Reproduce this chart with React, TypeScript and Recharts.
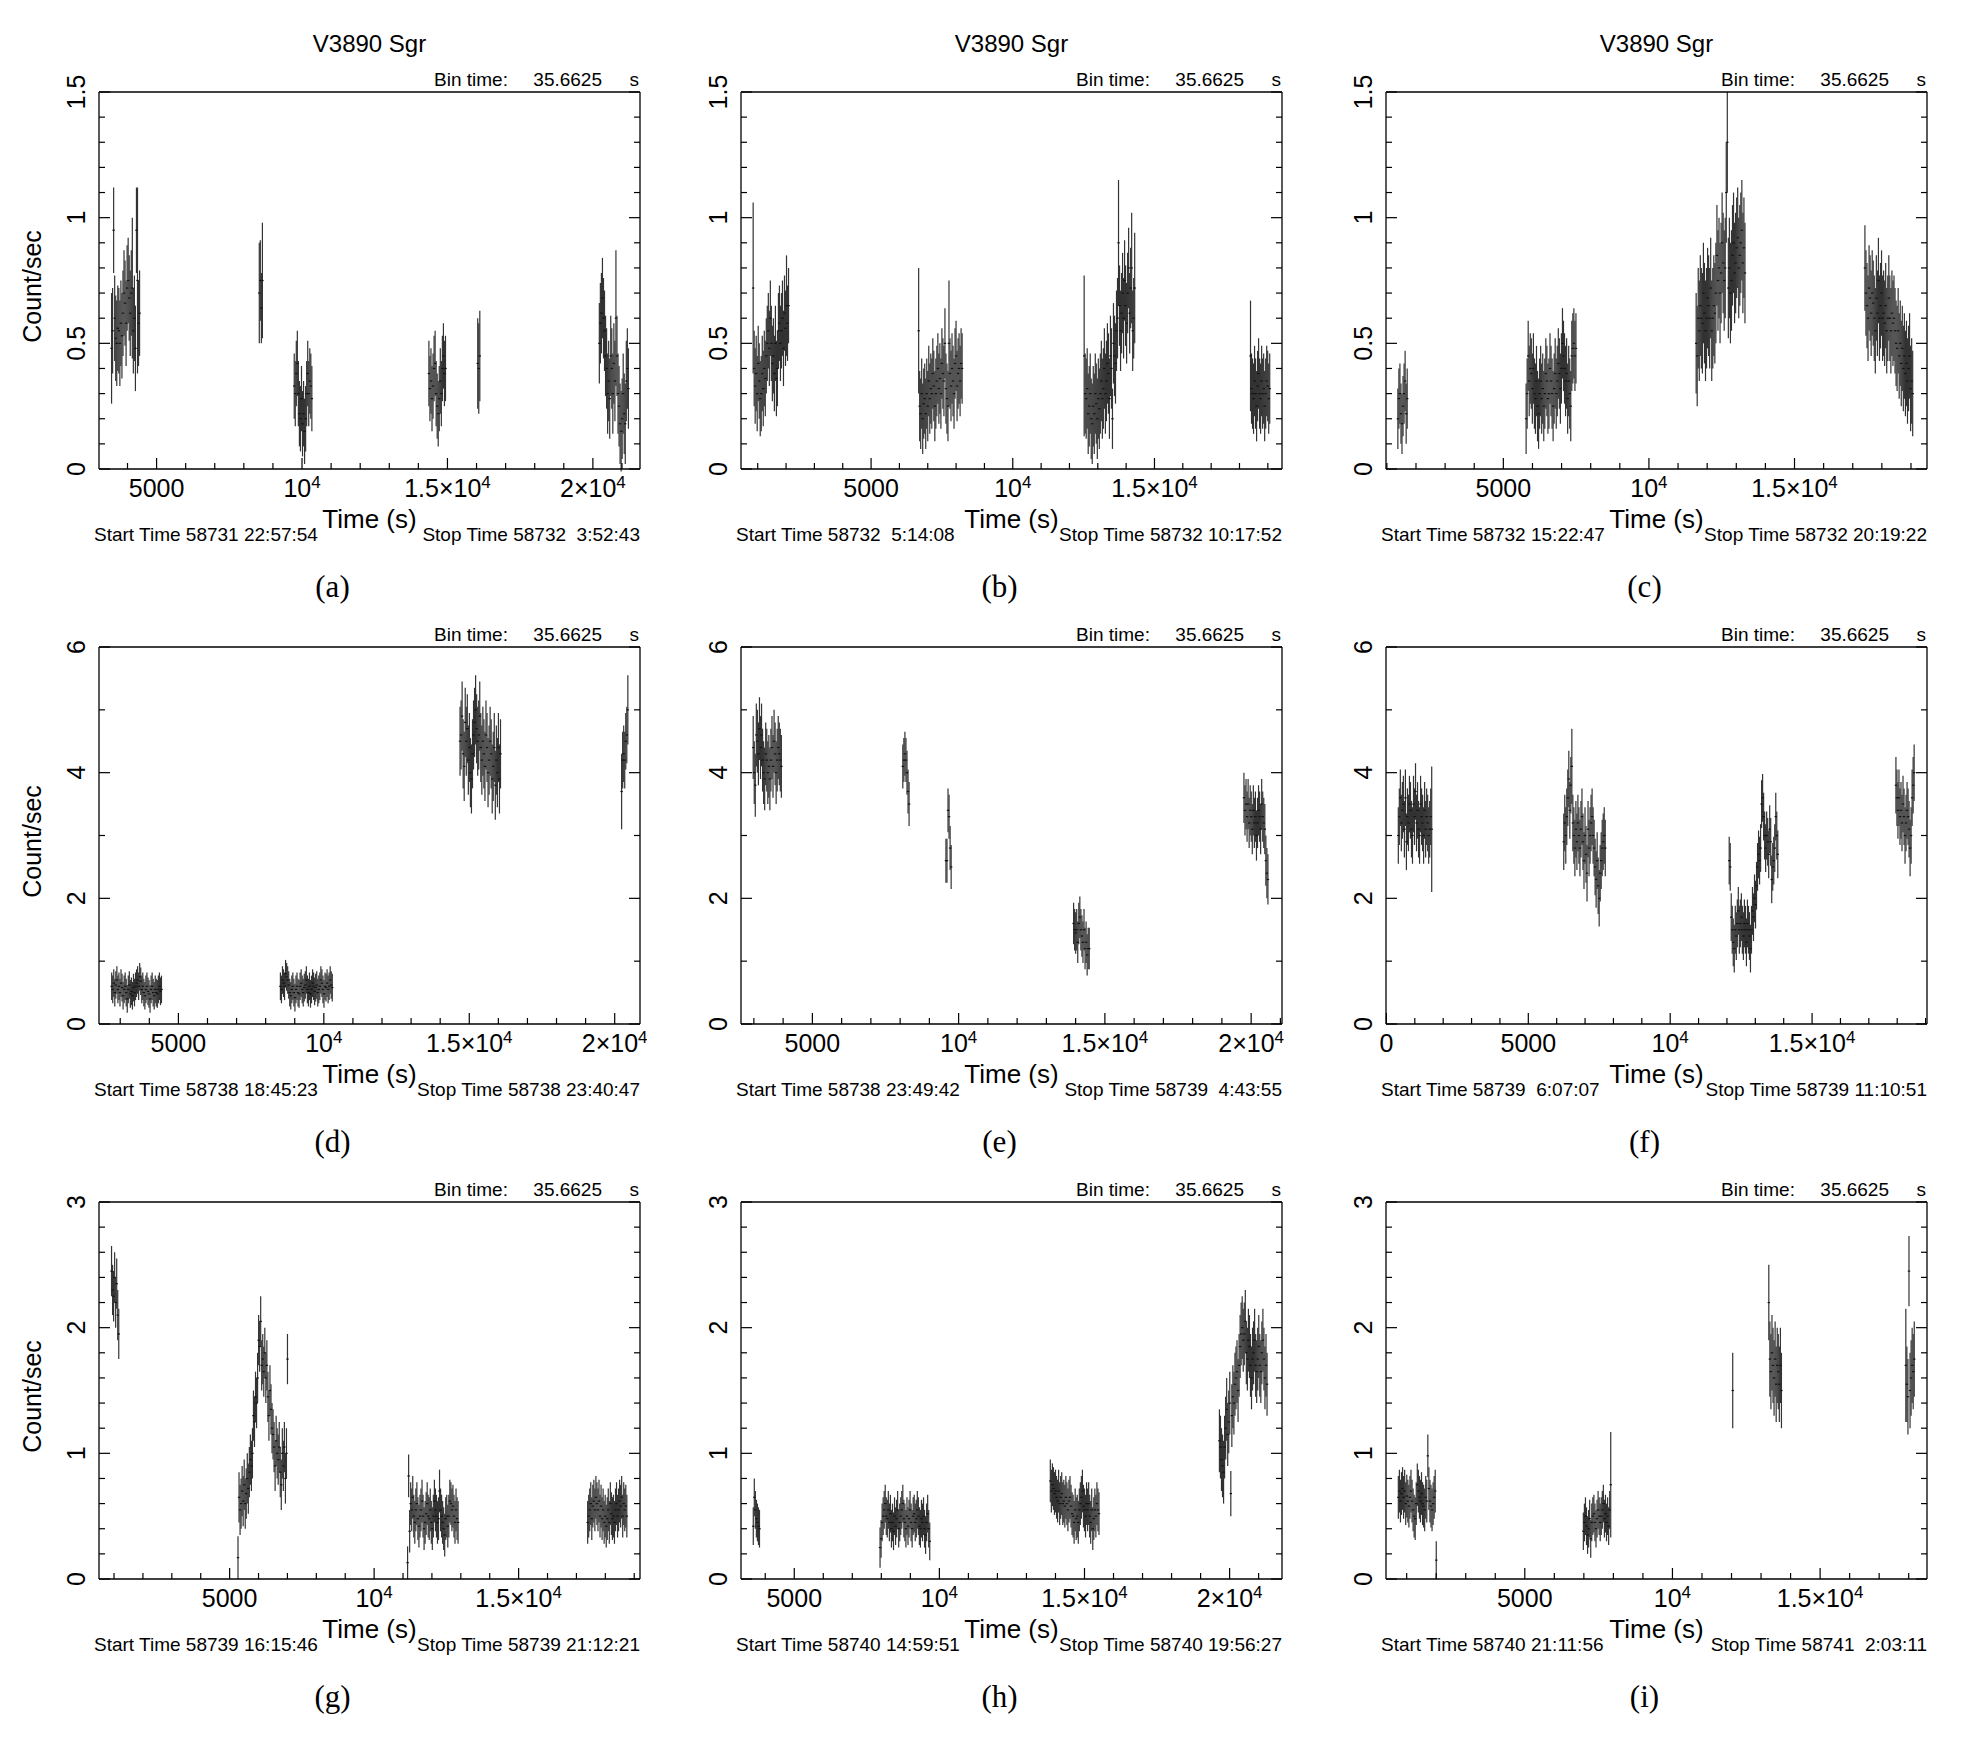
import React from 'react';
import { ScatterChart, Scatter, XAxis, YAxis, ErrorBar } from 'recharts';

const BIN_TIME = 35.6625;

// one light-curve segment: first bin time, typical error, rates (or [rate, error])
type Seg = { t0: number; e: number; v: (number | [number, number])[] };

const curveA: Seg[] = [
  { t0: 3452, e: 0.17, v: [[0.48, 0.22], 0.55, [0.95, 0.17], 0.6, 0.52, 0.5, 0.56, 0.55, 0.5, 0.58, 0.53, 0.62, 0.7, 0.66, 0.58, 0.72, 0.75, 0.68, 0.62, 0.7, [0.72, 0.28], 0.55, 0.6, 0.48, [0.95, 0.17], [0.75, 0.37], 0.58, 0.62] },
  { t0: 8531, e: 0.16, v: [[0.7, 0.2], 0.75, [0.64, 0.14], [0.75, 0.23]] },
  { t0: 9732, e: 0.13, v: [0.33, 0.3, 0.38, 0.42, 0.3, 0.22, 0.2, 0.28, 0.18, 0.22, 0.15, 0.2, 0.3, 0.38, 0.3, 0.35, 0.33, 0.28] },
  { t0: 14362, e: 0.13, v: [0.38, 0.32, 0.35, 0.28, 0.33, 0.4, 0.42, 0.3, 0.25, 0.22, 0.28, 0.35, 0.3, 0.4, 0.45, 0.38, 0.4] },
  { t0: 16041, e: 0.18, v: [0.42, 0.4, 0.45] },
  { t0: 20222, e: 0.16, v: [0.5, 0.58, 0.62, 0.68, 0.6, 0.55, 0.45, 0.4, 0.3, 0.35, 0.28, 0.45, 0.4, 0.3, 0.42, 0.35, [0.6, 0.27], 0.45, 0.3, 0.25, 0.18, 0.15, 0.2, 0.3, 0.22, 0.18, 0.35, 0.4, 0.32] },
];

const curveB: Seg[] = [
  { t0: 839, e: 0.15, v: [[0.72, 0.34], 0.4, 0.33, 0.38, 0.3, 0.42, 0.35, 0.28, 0.3, 0.38, 0.32, 0.4, 0.36, 0.45, 0.5, 0.55, 0.48, 0.6, 0.5, 0.42, 0.45, 0.38, 0.5, 0.36, 0.4, 0.55, 0.58, 0.5, 0.55, 0.6, 0.48, 0.62, 0.56, [0.65, 0.2], 0.58, 0.65] },
  { t0: 6679, e: 0.14, v: [[0.55, 0.25], 0.25, 0.22, 0.3, 0.2, 0.26, 0.28, 0.22, 0.3, 0.25, 0.35, 0.28, 0.32, 0.3, 0.38, 0.33, 0.25, 0.3, 0.35, 0.4, 0.32, 0.36, 0.3, 0.42, 0.38, 0.35, 0.5, 0.32, 0.28, 0.25, [0.5, 0.25], 0.38, 0.33, 0.4, 0.35, 0.3, 0.42, 0.45, 0.33, 0.38, 0.4, 0.35, 0.42, 0.4] },
  { t0: 12519, e: 0.16, v: [[0.45, 0.32], 0.3, 0.28, 0.32, 0.22, 0.25, 0.3, 0.2, 0.18, 0.25, 0.22, 0.3, 0.26, 0.2, 0.28, 0.24, 0.3, 0.35, 0.28, 0.32, 0.4, 0.3, 0.35, 0.42, 0.38, 0.28, 0.45, 0.4, [0.2, 0.12], 0.5, 0.45, 0.42, 0.55, 0.6, [0.9, 0.25], 0.65, 0.55, 0.62, 0.7, 0.6, 0.75, 0.65, 0.58, 0.7, 0.8, 0.62, 0.72, [0.8, 0.22], 0.55, 0.6, [0.72, 0.22]] },
  { t0: 18389, e: 0.14, v: [[0.45, 0.22], 0.32, 0.3, 0.28, 0.35, 0.3, 0.25, 0.33, 0.38, 0.3, 0.28, 0.35, 0.3, 0.32, 0.25, 0.3, 0.35, 0.33, 0.28, 0.32] },
];

const curveC: Seg[] = [
  { t0: 1377, e: 0.12, v: [0.2, 0.28, 0.3, 0.22, 0.18, 0.25, 0.3, 0.35, 0.22, 0.28] },
  { t0: 5782, e: 0.14, v: [0.2, 0.3, 0.45, 0.35, 0.4, 0.38, 0.32, 0.4, 0.3, 0.28, 0.35, 0.25, 0.22, 0.3, 0.35, 0.28, 0.32, 0.25, 0.3, 0.38, 0.35, 0.28, 0.3, 0.4, 0.35, 0.3, 0.25, 0.32, 0.38, 0.3, 0.35, 0.42, 0.38, 0.32, 0.4, 0.5, 0.45, 0.4, 0.35, 0.38, 0.28, 0.35, 0.3, 0.25, 0.45, 0.48, 0.5, 0.45, 0.48] },
  { t0: 11622, e: 0.2, v: [0.5, 0.45, 0.6, 0.55, 0.65, 0.6, 0.58, 0.7, 0.62, 0.55, 0.6, 0.68, 0.65, 0.6, 0.72, 0.55, 0.6, 0.65, 0.62, 0.7, 0.85, 0.75, 0.8, 0.7, 0.78, 0.9, 0.82, 0.75, 0.8, 1.1, [1.3, 0.2], 0.72, 0.8, 0.7, 0.75, 0.85, 0.9, 0.78, 0.82, 0.88, 0.92, 0.8, 0.85, 0.9, 0.95, 0.82, 0.88, 0.78] },
  { t0: 17418, e: 0.17, v: [0.8, 0.7, 0.65, 0.6, 0.72, 0.68, 0.62, 0.7, 0.66, 0.6, 0.55, 0.68, 0.62, 0.75, 0.6, 0.65, 0.7, 0.6, 0.62, 0.58, 0.65, 0.55, 0.6, 0.68, 0.6, 0.55, 0.62, 0.58, 0.6, 0.55, 0.5, 0.48, 0.55, 0.45, 0.5, 0.42, 0.48, 0.4, 0.45, 0.38, 0.42, 0.35, 0.4, 0.45, 0.32, 0.35, 0.3] },
];

const curveD: Seg[] = [
  { t0: 2706, e: 0.22, v: [0.6, 0.55, 0.65, 0.5, 0.62, 0.7, 0.55, 0.6, 0.5, 0.65, 0.58, 0.45, 0.55, 0.6, 0.5, 0.4, 0.55, 0.62, 0.48, 0.52, 0.45, 0.58, 0.5, 0.6, 0.65, 0.7, 0.6, 0.75, 0.68, 0.55, 0.6, 0.5, 0.45, 0.55, 0.6, 0.52, 0.48, 0.4, 0.55, 0.6, 0.5, 0.45, 0.55, 0.5, 0.48, 0.55, 0.6, 0.52, 0.55] },
  { t0: 8507, e: 0.22, v: [0.6, 0.55, 0.7, 0.65, 0.6, 0.8, 0.75, 0.7, 0.62, 0.5, 0.45, 0.55, 0.6, 0.5, 0.42, 0.55, 0.6, 0.5, 0.48, 0.6, 0.65, 0.55, 0.5, 0.58, 0.62, 0.7, 0.55, 0.5, 0.6, 0.48, 0.55, 0.65, 0.6, 0.52, 0.58, 0.62, 0.5, 0.55, 0.6, 0.7, 0.65, 0.55, 0.48, 0.6, 0.58, 0.65, 0.55, 0.6, 0.7, 0.62, 0.58] },
  { t0: 14683, e: 0.55, v: [4.5, 4.6, 4.9, 4.3, 4.1, 4.8, 4.5, 4.7, 4.2, 4.4, 4.0, 3.9, 4.3, 4.6, 4.8, 5.0, 4.7, 4.5, 4.6, 4.9, 4.4, 4.2, 4.5, 4.3, 4.1, 4.6, 4.4, 4.0, 4.2, 4.5, 4.3, 3.9, 4.1, 4.4, 3.8, 4.2, 4.0, 4.4, 3.9, 4.3] },
  { t0: 20238, e: 0.45, v: [[3.7, 0.6], 4.2, 4.3, 4.2, 4.5, 4.6, [5.0, 0.55]] },
];

const curveE: Seg[] = [
  { t0: 2977, e: 0.5, v: [4.4, 4.0, 3.8, 4.6, 4.5, 4.3, 4.7, 4.4, 4.6, 4.2, 4.0, 3.9, 4.3, 4.2, 4.0, 4.1, 3.9, 4.2, 4.4, 4.1, 4.5, 4.3, 4.0, 4.2, 4.4, 4.3, 4.2, 4.1] },
  { t0: 8092, e: 0.35, v: [4.1, 4.2, 4.3, 4.2, 4.0, 3.7, 3.5] },
  { t0: 9566, e: 0.35, v: [2.6, 2.6, 3.4, 3.3, 2.8, 2.5] },
  { t0: 13930, e: 0.33, v: [1.6, 1.5, 1.45, 1.5, 1.3, 1.6, 1.7, 1.5, 1.4, 1.3, 1.5, 1.2, 1.3, 1.1, 1.2, 1.2] },
  { t0: 19754, e: 0.4, v: [3.6, 3.4, 3.5, 3.3, 3.5, 3.2, 3.4, 3.3, 3.1, 3.4, 3.2, 3.3, 3.0, 3.2, 3.4, 3.3, 3.1, 3.5, 3.3, 3.2, 3.1, 2.6, 2.4, 2.3] },
];

const curveF: Seg[] = [
  { t0: 419, e: 0.45, v: [3.0, 3.3, 3.6, 3.2, 3.4, 3.5, 3.1, 3.6, 2.9, 3.3, 3.2, 3.5, 3.4, 3.1, 3.0, 3.5, 3.3, 3.7, 3.2, 3.4, 3.1, 3.0, 3.5, 3.3, 3.2, 3.0, 3.4, 3.1, 3.3, 3.2, 3.0, 3.1, 3.3, [3.1, 1.0]] },
  { t0: 6249, e: 0.45, v: [2.9, 3.2, 3.0, 3.3, 3.6, 3.9, 3.4, 3.8, [4.1, 0.6], 3.2, 3.0, 2.8, 3.1, 2.9, 3.2, 3.0, 2.8, 3.1, 3.3, 2.9, 2.6, 3.0, 2.7, 2.4, 3.1, 2.8, 3.0, 3.2, 3.3, 3.0, 2.8, 2.5, 2.3, 2.6, 2.2, 2.0, 2.4, 2.6, 2.8, 2.9, 3.0, 2.8] },
  { t0: 12080, e: 0.38, v: [2.6, 2.5, 1.7, 1.5, 1.3, 1.2, 1.5, 1.4, 1.6, 1.8, 1.5, 1.6, 1.7, 1.5, 1.4, 1.6, 1.5, 1.3, 1.6, 1.5, 1.4, 1.2, 1.5, 1.8, 1.7, 2.0, 1.9, 2.2, 2.5, 2.7, 2.6, 2.8, 3.5, 3.6, 3.3, 3.0, 2.8, 3.0, 2.9, 2.7, 3.1, 2.9, 2.3, 2.5, 2.6, 2.8, 3.3, 3.0, 2.7] },
  { t0: 17955, e: 0.45, v: [3.8, 3.6, 3.4, 3.6, 3.3, 3.4, 3.2, 3.5, 3.3, 3.0, 3.2, 3.4, 3.3, 3.1, 2.8, 3.0, 3.6, 3.8, 4.0] },
];

const curveG: Seg[] = [
  { t0: 914, e: 0.2, v: [2.45, 2.3, 2.25, 2.4, 2.2, 2.35, 2.1, 1.95] },
  { t0: 5290, e: 0.2, v: [[0.17, 0.17], 0.65, 0.55, 0.6, 0.7, 0.62, 0.75, 0.6, 0.68, 0.8, 0.72, 0.85, 0.95, 0.9, 1.0, 1.3, 1.25, 1.45, 1.4, 1.6, 1.9, 1.85, 2.05, 1.7, 1.75, 1.65, 1.8, 1.6, 1.7, 1.45, 1.3, 1.5, 1.35, 1.2, 1.15, 1.05, 0.9, 1.1, 1.0, 0.95, 1.05, 0.85, 0.75, 1.0, 0.9, 1.05, 0.8, 1.0, 1.75] },
  { t0: 11158, e: 0.17, v: [[0.13, 0.13], 0.82, 0.38, 0.6, 0.55, 0.65, 0.5, 0.45, 0.55, 0.6, 0.48, 0.42, 0.5, 0.55, 0.62, 0.5, 0.4, 0.45, 0.52, 0.6, 0.5, 0.48, 0.55, 0.45, 0.4, 0.5, 0.62, 0.55, 0.5, 0.45, 0.48, 0.7, 0.55, 0.5, 0.45, 0.4, 0.35, 0.48, 0.5, 0.42, 0.5, 0.62, 0.6, 0.55, 0.58, 0.5, 0.45, 0.55, 0.48, 0.45] },
  { t0: 17389, e: 0.17, v: [0.45, 0.5, 0.55, 0.6, 0.48, 0.58, 0.62, 0.55, 0.65, 0.6, 0.55, 0.62, 0.5, 0.58, 0.48, 0.55, 0.45, 0.5, 0.42, 0.48, 0.55, 0.45, 0.6, 0.52, 0.48, 0.5, 0.45, 0.55, 0.6, 0.5, 0.55, 0.62, 0.58, 0.65, 0.5, 0.6, 0.55, 0.58, 0.5] },
];

const curveH: Seg[] = [
  { t0: 3588, e: 0.15, v: [0.42, 0.65, 0.55, 0.48, 0.45, 0.42, 0.4] },
  { t0: 7956, e: 0.15, v: [[0.25, 0.16], 0.32, 0.45, 0.5, 0.55, 0.6, 0.5, 0.48, 0.55, 0.45, 0.52, 0.4, 0.45, 0.38, 0.5, 0.42, 0.48, 0.55, 0.4, 0.45, 0.5, 0.55, 0.6, 0.48, 0.45, 0.4, 0.5, 0.42, 0.48, 0.55, 0.45, 0.4, 0.5, 0.52, 0.45, 0.48, 0.55, 0.5, 0.42, 0.4, 0.48, 0.45, 0.5, 0.4, 0.35, 0.45, 0.52, 0.4, 0.3] },
  { t0: 13823, e: 0.17, v: [0.78, 0.7, 0.75, 0.72, 0.68, 0.7, 0.65, 0.62, 0.7, 0.6, 0.65, 0.68, 0.6, 0.62, 0.58, 0.65, 0.6, 0.55, 0.62, 0.65, 0.58, 0.52, 0.5, 0.45, 0.55, 0.48, 0.5, 0.45, 0.55, 0.6, 0.65, 0.7, 0.58, 0.55, 0.5, 0.6, 0.55, 0.6, 0.5, 0.45, 0.55, 0.4, 0.48, 0.55, 0.5, 0.6, 0.55, 0.52] },
  { t0: 19649, e: 0.25, v: [1.1, 1.05, 0.95, 0.9, 0.85, 1.05, 1.2, 1.35, 1.15, 1.25, 1.4, [0.68, 0.18], 1.3, 1.45, 1.4, 1.55, 1.6, 1.65, 1.5, 1.7, 1.85, 1.95, 2.0, 1.9, 1.95, 2.05, 1.8, 1.75, 1.9, 1.85, 1.7, 1.6, 1.75, 1.8, 1.9, 1.7, 1.65, 1.75, 1.85, 1.7, 1.65, 1.8, 1.9, 1.75, 1.6, 1.7, 1.55] },
];

const curveI: Seg[] = [
  { t0: 718, e: 0.17, v: [0.65, 0.7, 0.62, 0.68, 0.72, 0.65, 0.7, 0.6, 0.66, 0.62, 0.58, 0.65, 0.7, 0.62, 0.55, 0.5, 0.48, 0.6, 0.75, 0.7, 0.65, 0.62, 0.68, 0.6, 0.58, 0.55, 0.65, 0.62, 0.98, 0.72, 0.62, 0.58, 0.55, 0.6, 0.65, 0.7, [0.15, 0.15]] },
  { t0: 6983, e: 0.15, v: [0.38, 0.45, 0.5, 0.42, 0.35, 0.4, 0.48, 0.32, 0.45, 0.5, 0.52, 0.45, 0.4, 0.48, 0.55, 0.5, 0.45, 0.5, 0.55, 0.6, 0.48, 0.52, 0.45, 0.5, 0.42, 0.55, [0.75, 0.42]] },
  { t0: 12041, e: 0.3, v: [1.5] },
  { t0: 13263, e: 0.3, v: [2.2, 1.75, 1.65, 1.8, 1.7, 1.6, 1.75, 1.55, 1.7, 1.65, 1.55, 1.7, 1.5] },
  { t0: 17903, e: 0.3, v: [[1.7, 0.45], 1.55, 1.45, [2.45, 0.28], 1.5, 1.6, 1.7, 1.65, 1.75] },
];

const CURVES = [curveA, curveB, curveC, curveD, curveE, curveF, curveG, curveH, curveI];
const PANEL_TAGS = ['(a)', '(b)', '(c)', '(d)', '(e)', '(f)', '(g)', '(h)', '(i)'];
const START_TIMES = [
  'Start Time 58731 22:57:54', 'Start Time 58732  5:14:08', 'Start Time 58732 15:22:47',
  'Start Time 58738 18:45:23', 'Start Time 58738 23:49:42', 'Start Time 58739  6:07:07',
  'Start Time 58739 16:15:46', 'Start Time 58740 14:59:51', 'Start Time 58740 21:11:56',
];
const STOP_TIMES = [
  'Stop Time 58732  3:52:43', 'Stop Time 58732 10:17:52', 'Stop Time 58732 20:19:22',
  'Stop Time 58738 23:40:47', 'Stop Time 58739  4:43:55', 'Stop Time 58739 11:10:51',
  'Stop Time 58739 21:12:21', 'Stop Time 58740 19:56:27', 'Stop Time 58741  2:03:11',
];
const X_DOMAINS: [number, number][] = [
  [3020, 21620], [410, 19500], [970, 19550],
  [2270, 20870], [2560, 21055], [-15, 19050],
  [480, 19200], [3165, 21805], [300, 18620],
];
const ROW_YMAX = [1.5, 6, 3];
const ROW_YSTEP = [0.1, 1, 0.2];
const ROW_YMAJOR = [[0, 0.5, 1, 1.5], [0, 2, 4, 6], [0, 1, 2, 3]];

const TITLE = 'V3890 Sgr';
const Y_TITLE = 'Count/sec';
const X_TITLE = 'Time (s)';
const BIN_LABEL = 'Bin time:';
const BIN_VALUE = '35.6625';

// layout of the 3x3 grid (frame boxes in page pixels)
const FRAME_LEFT = [99, 741, 1386];
const FRAME_TOP = [92, 647, 1202];
const FRAME_W = 541;
const FRAME_H = 377;
const TAG_SHIFT = [-37, -12, -12];
const M = { top: 20, right: 6, bottom: 50, left: 50 };
const AX = 1; // axes need a non-zero band to be drawn

const FONT = '"Liberation Sans", Arial, Helvetica, sans-serif';
const SERIF = '"Liberation Serif", "Times New Roman", serif';
const MAJ = 11;
const MIN = 6;
const INK = '#000';

function toPoints(curve: Seg[]) {
  const pts: { t: number; y: number; e: number }[] = [];
  curve.forEach((s) =>
    s.v.forEach((p, i) => {
      const [y, e] = Array.isArray(p) ? p : [p, s.e];
      pts.push({ t: s.t0 + i * BIN_TIME, y, e });
    })
  );
  return pts;
}

function steps(from: number, to: number, step: number) {
  const out: number[] = [];
  for (let i = 0; from + i * step <= to + 1e-9; i++) out.push(Math.round((from + i * step) * 1000) / 1000);
  return out;
}

function xLabel(v: number): [string, string] {
  if (v === 10000) return ['10', '4'];
  if (v === 15000) return ['1.5×10', '4'];
  if (v === 20000) return ['2×10', '4'];
  return [String(v), ''];
}

const BottomTick = (p: any) => {
  const v = p.payload.value;
  const major = v % 5000 === 0;
  const [base, sup] = xLabel(v);
  return (
    <g>
      <line x1={p.x} y1={p.y} x2={p.x} y2={p.y - (major ? MAJ : MIN)} stroke={INK} strokeWidth={1.2} />
      {major && (
        <text x={p.x} y={p.y + 28} textAnchor="middle" fontSize={25} fontFamily={FONT} fill={INK}>
          {base}
          {sup && (
            <tspan dy={-9} fontSize={17}>
              {sup}
            </tspan>
          )}
        </text>
      )}
    </g>
  );
};

const TopTick = (p: any) => {
  const major = p.payload.value % 5000 === 0;
  return <line x1={p.x} y1={p.y} x2={p.x} y2={p.y + (major ? MAJ : MIN)} stroke={INK} strokeWidth={1.2} />;
};

const isMajorY = (v: number, majors: number[]) => majors.some((m) => Math.abs(m - v) < 1e-6);

const makeLeftTick = (majors: number[]) => (p: any) => {
  const v = p.payload.value;
  const major = isMajorY(v, majors);
  return (
    <g>
      <line x1={p.x} y1={p.y} x2={p.x + (major ? MAJ : MIN)} y2={p.y} stroke={INK} strokeWidth={1.2} />
      {major && (
        <text
          transform={`translate(${p.x - 14},${p.y}) rotate(-90)`}
          textAnchor="middle"
          fontSize={25}
          fontFamily={FONT}
          fill={INK}
        >
          {String(v)}
        </text>
      )}
    </g>
  );
};

const makeRightTick = (majors: number[]) => (p: any) => {
  const major = isMajorY(p.payload.value, majors);
  return <line x1={p.x} y1={p.y} x2={p.x - (major ? MAJ : MIN)} y2={p.y} stroke={INK} strokeWidth={1.2} />;
};

const Dash = (p: any) => (
  <line x1={p.cx - 1.2} x2={p.cx + 1.2} y1={p.cy} y2={p.cy} stroke="#111" strokeWidth={1.2} />
);

function Panel({ i }: { i: number }) {
  const row = Math.floor(i / 3);
  const col = i % 3;
  const dom = X_DOMAINS[i];
  const pts = toPoints(CURVES[i]);
  const xTicks = steps(Math.ceil(dom[0] / 1000) * 1000, dom[1], 1000);
  const yTicks = steps(0, ROW_YMAX[row], ROW_YSTEP[row]);
  const axisLine = { stroke: INK, strokeWidth: 1.3 };
  const common = {
    type: 'number' as const,
    allowDataOverflow: true,
    interval: 0 as const,
    tickSize: 0,
    tickMargin: 0,
    tickLine: false,
    axisLine,
  };
  return (
    <div style={{ position: 'absolute', left: FRAME_LEFT[col] - M.left - AX, top: FRAME_TOP[row] - M.top - AX }}>
      <ScatterChart
        width={M.left + M.right + FRAME_W + 2 * AX}
        height={M.top + M.bottom + FRAME_H + 2 * AX}
        margin={M}
      >
        <XAxis {...common} xAxisId="b" dataKey="t" domain={dom} ticks={xTicks} height={AX} tick={BottomTick} />
        <XAxis {...common} xAxisId="t" orientation="top" domain={dom} ticks={xTicks} height={AX} tick={TopTick} />
        <YAxis
          {...common}
          yAxisId="l"
          dataKey="y"
          domain={[0, ROW_YMAX[row]]}
          ticks={yTicks}
          width={AX}
          tick={makeLeftTick(ROW_YMAJOR[row])}
        />
        <YAxis
          {...common}
          yAxisId="r"
          orientation="right"
          domain={[0, ROW_YMAX[row]]}
          ticks={yTicks}
          width={AX}
          tick={makeRightTick(ROW_YMAJOR[row])}
        />
        <Scatter xAxisId="b" yAxisId="l" data={pts} shape={Dash} isAnimationActive={false}>
          <ErrorBar dataKey="e" direction="y" width={0} stroke="#333" strokeWidth={1.2} isAnimationActive={false} />
        </Scatter>
      </ScatterChart>
    </div>
  );
}

function Annotations() {
  const items: React.ReactNode[] = [];
  for (let i = 0; i < 9; i++) {
    const row = Math.floor(i / 3);
    const col = i % 3;
    const L = FRAME_LEFT[col];
    const T = FRAME_TOP[row];
    const R = L + FRAME_W;
    const B = T + FRAME_H;
    const cx = (L + R) / 2;
    if (row === 0)
      items.push(
        <text key={`ti${i}`} x={cx} y={T - 40} textAnchor="middle" fontSize={24}>
          {TITLE}
        </text>
      );
    if (col === 0)
      items.push(
        <text key={`yl${i}`} transform={`translate(${L - 58},${(T + B) / 2 + 6}) rotate(-90)`} textAnchor="middle" fontSize={25}>
          {Y_TITLE}
        </text>
      );
    items.push(
      <text key={`b1${i}`} x={R - 206} y={T - 6} fontSize={19}>
        {BIN_LABEL}
      </text>,
      <text key={`b2${i}`} x={R - 38} y={T - 6} fontSize={19} textAnchor="end">
        {BIN_VALUE}
      </text>,
      <text key={`b3${i}`} x={R - 1} y={T - 6} fontSize={19} textAnchor="end">
        s
      </text>,
      <text key={`xl${i}`} x={cx} y={B + 59} fontSize={26} textAnchor="middle">
        {X_TITLE}
      </text>,
      <text key={`st${i}`} x={L - 5} y={B + 72} fontSize={19} style={{ whiteSpace: 'pre' }}>
        {START_TIMES[i]}
      </text>,
      <text key={`sp${i}`} x={R} y={B + 72} fontSize={19} textAnchor="end" style={{ whiteSpace: 'pre' }}>
        {STOP_TIMES[i]}
      </text>,
      <text key={`tg${i}`} x={cx + TAG_SHIFT[col]} y={B + 128} fontSize={31} fontFamily={SERIF} textAnchor="middle">
        {PANEL_TAGS[i]}
      </text>
    );
  }
  return (
    <svg
      width={1962}
      height={1758}
      style={{ position: 'absolute', left: 0, top: 0, pointerEvents: 'none' }}
      fontFamily={FONT}
      fill={INK}
    >
      {items}
    </svg>
  );
}

export default function App() {
  return (
    <div style={{ position: 'absolute', left: 0, top: 0, width: 1962, height: 1758, background: '#fff' }}>
      {CURVES.map((_, i) => (
        <Panel key={i} i={i} />
      ))}
      <Annotations />
    </div>
  );
}
